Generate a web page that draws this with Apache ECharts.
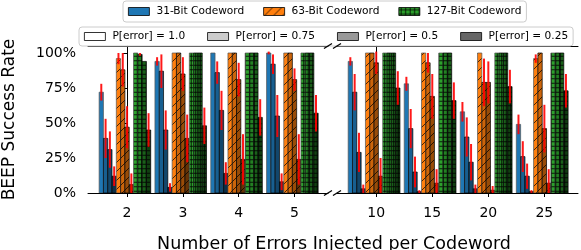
<!DOCTYPE html>
<html><head><meta charset="utf-8">
<script src="https://cdn.jsdelivr.net/npm/echarts@6/dist/echarts.min.js"></script>
<style>html,body{margin:0;padding:0;background:#fff}#c{width:581px;height:250px}</style>
</head><body><div id="c"></div>
<script>
// ---------------- data ----------------
const groupsLeft = ['2', '3', '4', '5'];
const groupsRight = ['10', '15', '20', '25'];
const codewords = ['31-Bit Codeword', '63-Bit Codeword', '127-Bit Codeword'];
const pLevels = ['P[error] = 1.0', 'P[error] = 0.75', 'P[error] = 0.5', 'P[error] = 0.25'];
const yTicks = [0, 25, 50, 75, 100];
// rows: groups 2,3,4,5,10,15,20,25 ; columns: P[error] 1.0, 0.75, 0.5, 0.25
const succ31 = [[72,39,31,12],[94,87,45,4],[100,86,59,14],[100,92,55,8],[94,72,29,3],[78,46,15,1],[58,40,22,3],[49,26,12,1]];
const err31  = [[6,14,13,7],[3,12,14,3],[0,8,14,8],[1,7,15,6],[3,13,14,3],[5,14,11,1],[7,14,13,3],[7,11,9,1]];
const succ63 = [[96,88,47,6],[100,100,85,39],[100,100,81,24],[100,100,81,24],[100,100,93,12],[100,93,69,7],[100,79,79,2],[96,100,46,7]];
const err63  = [[4,12,15,8],[0,0,12,17],[0,0,12,18],[0,0,8,18],[0,0,8,13],[0,7,16,10],[0,17,15,3],[3,0,17,10]];
const succ127 = [[100,99,94,45],[100,100,100,48],[100,100,100,54],[100,100,100,57],[100,100,100,75],[100,100,100,66],[100,100,100,76],[100,100,100,73]];
const err127  = [[0,1,0,12],[0,0,0,13],[0,0,0,13],[0,0,0,13],[0,0,0,12],[0,0,0,13],[0,0,0,12],[0,0,0,12]];

// ---------------- style ----------------
const baseColors = ['#1f77b4', '#ff7f0e', '#2ca02c'];
const hatches = ['', '/', '+'];
const shadeAlpha = [0, 0.2, 0.4, 0.6];
const shadeLegend = ['#ffffff', '#cccccc', '#999999', '#666666'];
const FONT = 'DejaVu Sans';
const BW = 0.077; // bar width in axis units
const L0 = 87, W = 241, L1 = 337, TOP = 46, H = 147;

function makePattern(color, hatch, alpha) {
  const S = hatch === '/' ? 9 : (hatch === '+' ? 4.5 : 8);
  const c = document.createElement('canvas');
  const n = hatch === '+' ? 2 : 1;
  const size = Math.round(S * n);
  c.width = size; c.height = size;
  const ctx = c.getContext('2d');
  ctx.fillStyle = color; ctx.fillRect(0, 0, size, size);
  ctx.strokeStyle = 'rgba(0,0,0,0.9)';
  if (hatch === '/') {
    ctx.lineWidth = 0.8;
    ctx.beginPath();
    ctx.moveTo(-1, size + 1); ctx.lineTo(size + 1, -1);
    ctx.moveTo(-1, 1); ctx.lineTo(1, -1);
    ctx.moveTo(size - 1, size + 1); ctx.lineTo(size + 1, size - 1);
    ctx.stroke();
  } else if (hatch === '+') {
    ctx.lineWidth = 0.9;
    ctx.beginPath();
    for (let i = 0; i < n; i++) {
      const p = i * size / n + size / (2 * n);
      ctx.moveTo(p, 0); ctx.lineTo(p, size);
      ctx.moveTo(0, p); ctx.lineTo(size, p);
    }
    ctx.stroke();
  }
  if (alpha > 0) { ctx.fillStyle = 'rgba(0,0,0,' + alpha + ')'; ctx.fillRect(0, 0, size, size); }
  return { image: c, repeat: 'repeat' };
}
const patterns = baseColors.map((col, ci) => shadeAlpha.map(a => makePattern(col, hatches[ci], a)));

const succ = [succ31, succ63, succ127];
const errs = [err31, err63, err127];

function renderBar(ci) {
  return function (params, api) {
    const g = api.value(0), k = api.value(1), v = api.value(2), e = api.value(3), j = api.value(4);
    const xc = g + (ci * 4 + k - 6) * BW;
    const p0 = api.coord([xc - BW / 2, v]);
    const p1 = api.coord([xc + BW / 2, 0]);
    const children = [{
      type: 'rect',
      shape: { x: p0[0], y: p0[1], width: p1[0] - p0[0], height: p1[1] - p0[1] },
      style: { fill: patterns[ci][j], stroke: j === 0 ? '#555' : '#000', lineWidth: 0.7 }
    }];
    if (e > 0) {
      const t = api.coord([xc, v + e]);
      const b = api.coord([xc, Math.max(0, v - e)]);
      children.push({ type: 'line', shape: { x1: t[0], y1: t[1], x2: b[0], y2: b[1] },
        style: { stroke: 'rgba(255,0,0,0.9)', lineWidth: 2 }, z2: 10 });
    }
    return { type: 'group', children };
  };
}

const series = [];
[0, 1].forEach(panel => {
  codewords.forEach((name, ci) => {
    const data = [];
    for (let g = 0; g < 4; g++) {
      for (let j = 0; j < 4; j++) {
        const row = panel * 4 + g;
        data.push([g, j, succ[ci][row][j], errs[ci][row][j], j]);
      }
    }
    series.push({
      type: 'custom', name, xAxisIndex: panel, yAxisIndex: panel,
      renderItem: renderBar(ci), data, clip: true,
      itemStyle: { color: patterns[ci][0], borderColor: '#000' },
      encode: { x: 0, y: 2 }
    });
  });
});
pLevels.forEach((name, j) => {
  series.push({ type: 'custom', name, xAxisIndex: 0, yAxisIndex: 0, data: [],
    renderItem: () => null, itemStyle: { color: shadeLegend[j], borderColor: '#000' } });
});

const tickVals = [0, 1, 2, 3];
function bottomAxis(grid, labels) {
  return {
    type: 'value', gridIndex: grid, min: -0.7, max: 3.6, position: 'bottom',
    splitLine: { show: false },
    axisLine: { show: true, onZero: false, lineStyle: { color: '#000', width: 1 } },
    axisTick: { show: true, customValues: tickVals, length: 4, lineStyle: { color: '#000' } },
    axisLabel: { show: true, customValues: tickVals, formatter: v => labels[Math.round(v)],
      color: '#000', fontFamily: FONT, fontSize: 14, margin: 13 }
  };
}
function topAxis(grid) {
  return {
    type: 'value', gridIndex: grid, min: -0.7, max: 3.6, position: 'top',
    splitLine: { show: false },
    axisLine: { show: true, onZero: false, lineStyle: { color: '#000', width: 1 } },
    axisTick: { show: false }, axisLabel: { show: false }
  };
}

const legendCommon = {
  orient: 'horizontal', itemWidth: 21, itemHeight: 8,
  icon: 'rect',
  itemStyle: { borderColor: '#000', borderWidth: 0.8 },
  textStyle: { fontFamily: FONT, fontSize: 10.6, color: '#000', padding: [0, 0, 0, 2] },
  backgroundColor: 'rgba(255,255,255,0.8)', borderColor: '#cccccc', borderWidth: 1,
  borderRadius: 3, selectedMode: false
};

const chart = echarts.init(document.getElementById('c'), null, { renderer: 'canvas' });
chart.setOption({
  animation: false,
  backgroundColor: '#fff',
  grid: [
    { left: L0, top: TOP, width: W, height: H },
    { left: L1, top: TOP, width: W, height: H }
  ],
  xAxis: [bottomAxis(0, groupsLeft), bottomAxis(1, groupsRight), topAxis(0), topAxis(1)],
  yAxis: [
    { type: 'value', gridIndex: 0, min: 0, max: 105, position: 'left',
      splitLine: { show: false },
      axisLine: { show: true, lineStyle: { color: '#000' } },
      axisTick: { show: true, customValues: yTicks, length: 4, lineStyle: { color: '#000' } },
      axisLabel: { customValues: yTicks, formatter: v => v + '%', color: '#000', fontFamily: FONT, fontSize: 14, margin: 12 },
      name: 'BEEP Success Rate', nameLocation: 'middle', nameGap: 70,
      nameTextStyle: { fontFamily: FONT, fontSize: 17, color: '#000' } },
    { type: 'value', gridIndex: 1, min: 0, max: 105, position: 'right',
      splitLine: { show: false },
      axisLine: { show: true, lineStyle: { color: '#000' } },
      axisTick: { show: false }, axisLabel: { show: false } }
  ],
  title: { text: 'Number of Errors Injected per Codeword', left: 329, top: 230, textAlign: 'center',
    textStyle: { fontFamily: FONT, fontSize: 17.5, fontWeight: 'normal', color: '#000' } },
  legend: [
    Object.assign({}, legendCommon, { data: codewords, left: 123, top: 1, itemGap: 19, padding: [5, 5] }),
    Object.assign({}, legendCommon, { data: pLevels, left: 79, top: 27, itemGap: 22, padding: [4, 5] })
  ],
  series,
  graphic: (function () {
    const marks = [];
    const xs = [L0 + W, L1];
    const ys = [TOP, TOP + H];
    xs.forEach(x => ys.forEach(y => {
      marks.push({ type: 'line', shape: { x1: x - 4, y1: y + 2.5, x2: x + 4, y2: y - 2.5 },
        style: { stroke: '#000', lineWidth: 1.3 }, z: 100 });
    }));
    return marks;
  })()
});
</script></body></html>
